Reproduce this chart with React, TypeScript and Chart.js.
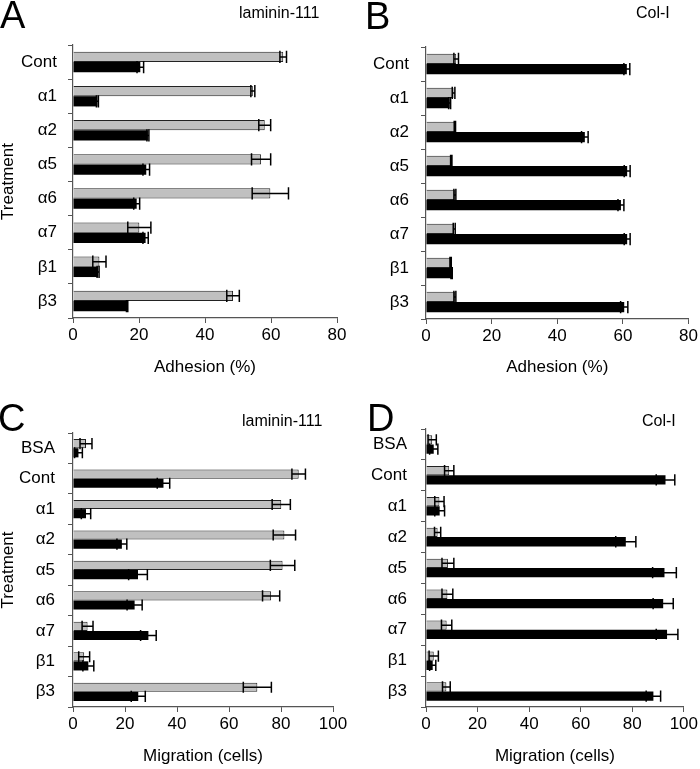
import React, { useEffect, useRef } from "react";
import { Chart, registerables } from "chart.js";

Chart.register(...registerables);

const adhesionCategories = ["Cont", "α1", "α2", "α5", "α6", "α7", "β1", "β3"];
const migrationCategories = ["BSA", "Cont", "α1", "α2", "α5", "α6", "α7", "β1", "β3"];
const adhesionTicks = [0, 20, 40, 60, 80];
const migrationTicks = [0, 20, 40, 60, 80, 100];

// Panel A: adhesion on laminin-111
const aGray = [63.7, 54.5, 58.1, 57.0, 59.8, 20.1, 8.0, 48.5];
const aGrayErr = [1.0, 0.6, 1.8, 2.9, 5.5, 3.5, 2.0, 1.9];
const aBlack = [20.4, 7.4, 22.7, 22.2, 19.3, 22.0, 7.6, 16.4];
const aBlackErr = [1.0, 0.3, 0.3, 1.0, 0.9, 0.8, 0.3, 0.2];

// Panel B: adhesion on Col-I
const bGray = [9.2, 8.4, 8.8, 7.7, 8.8, 8.6, 7.5, 8.8];
const bGrayErr = [0.7, 0.4, 0.2, 0.2, 0.3, 0.3, 0.2, 0.3];
const bBlack = [61.2, 7.2, 48.4, 61.3, 59.4, 61.3, 7.8, 60.4];
const bBlackErr = [0.9, 0.3, 1.0, 0.9, 0.9, 0.9, 0.2, 1.1];

// Panel C: migration on laminin-111
const cGray = [5.0, 86.8, 80.1, 81.3, 80.6, 76.2, 5.6, 4.3, 70.9];
const cGrayErr = [2.3, 2.6, 3.5, 4.3, 4.7, 3.3, 2.1, 2.1, 5.4];
const cBlack = [2.1, 34.8, 5.0, 18.8, 25.0, 23.7, 29.0, 5.9, 25.1];
const cBlackErr = [1.5, 2.4, 1.8, 1.9, 3.6, 2.9, 3.0, 2.1, 2.7];

// Panel D: migration on Col-I
const dGray = [2.4, 9.0, 5.2, 4.5, 8.5, 8.3, 8.0, 3.0, 7.9];
const dGrayErr = [1.6, 1.8, 1.8, 1.2, 2.3, 2.1, 2.0, 1.8, 1.5];
const dBlack = [3.0, 92.9, 5.3, 77.5, 92.5, 92.0, 93.5, 2.6, 88.2];
const dBlackErr = [1.6, 3.6, 1.9, 3.9, 4.6, 3.9, 4.2, 1.2, 2.8];

const FONT = "'Liberation Sans', Arial, Helvetica, sans-serif";
const AXIS_COLOR = "#555";

const errorBarPlugin = {
  id: "errorBars",
  afterDatasetsDraw(chart: any) {
    const ctx = chart.ctx;
    const xScale = chart.scales.x;
    ctx.save();
    ctx.strokeStyle = "#000";
    ctx.lineWidth = 1.5;
    chart.data.datasets.forEach((ds: any, di: number) => {
      const meta = chart.getDatasetMeta(di);
      const errs: number[] = ds.errors || [];
      meta.data.forEach((bar: any, i: number) => {
        const v = ds.data[i];
        const e = errs[i] || 0;
        const x0 = xScale.getPixelForValue(Math.max(0, v - e));
        const x1 = xScale.getPixelForValue(v + e);
        const y = bar.y;
        const hh = bar.height / 2 + 1;
        ctx.beginPath();
        ctx.moveTo(x0, y);
        ctx.lineTo(x1, y);
        ctx.moveTo(x0, y - hh);
        ctx.lineTo(x0, y + hh);
        ctx.moveTo(x1, y - hh);
        ctx.lineTo(x1, y + hh);
        ctx.stroke();
      });
    });
    ctx.restore();
  },
};

type PanelProps = {
  width: number;
  height: number;
  categories: string[];
  gray: number[];
  grayErr: number[];
  black: number[];
  blackErr: number[];
  ticks: number[];
  xTitle: string;
  yTitle?: string;
  padTop: number;
  padRight: number;
  yWidth: number;
  xHeight: number;
  labelPad: number;
};

function Panel(p: PanelProps) {
  const ref = useRef<HTMLCanvasElement | null>(null);
  useEffect(() => {
    if (!ref.current) return;
    const maxTick = p.ticks[p.ticks.length - 1];
    const chart = new Chart(ref.current, {
      type: "bar",
      data: {
        labels: p.categories,
        datasets: [
          {
            data: p.gray,
            errors: p.grayErr,
            backgroundColor: "#c0c0c0",
            borderColor: "#222",
            borderWidth: 1,
            categoryPercentage: 0.6,
            barPercentage: 1.0,
          } as any,
          {
            data: p.black,
            errors: p.blackErr,
            backgroundColor: "#000",
            borderColor: "#000",
            borderWidth: 0,
            categoryPercentage: 0.6,
            barPercentage: 1.0,
          } as any,
        ],
      },
      options: {
        indexAxis: "y",
        responsive: false,
        animation: false,
        devicePixelRatio: 1,
        layout: { padding: { top: p.padTop, right: p.padRight, left: 0, bottom: 0 } },
        plugins: {
          legend: { display: false },
          tooltip: { enabled: false },
          title: { display: false },
        },
        scales: {
          x: {
            type: "linear",
            min: 0,
            max: maxTick,
            afterBuildTicks: (s: any) => {
              s.ticks = p.ticks.map((v) => ({ value: v }));
            },
            ticks: { color: "#000", font: { size: 17, family: FONT }, padding: 2 },
            grid: { drawOnChartArea: false, drawTicks: true, tickLength: 5, color: AXIS_COLOR, lineWidth: 1 },
            border: { display: true, color: AXIS_COLOR, width: 1.2 },
            title: {
              display: true,
              text: p.xTitle,
              color: "#000",
              font: { size: 17, family: FONT },
              padding: { top: 0, bottom: 2 },
            },
            afterFit: (s: any) => {
              s.height = p.xHeight;
            },
          },
          y: {
            type: "category",
            offset: true,
            ticks: {
              color: "#000",
              font: { size: 17, family: FONT },
              padding: p.labelPad,
              autoSkip: false,
            },
            grid: { offset: true, drawOnChartArea: false, drawTicks: true, tickLength: 5, color: AXIS_COLOR, lineWidth: 1 },
            border: { display: true, color: AXIS_COLOR, width: 1.2 },
            title: {
              display: !!p.yTitle,
              text: p.yTitle || "",
              color: "#000",
              font: { size: 17, family: FONT, lineHeight: 1 },
              padding: 0,
            },
            afterFit: (s: any) => {
              s.width = p.yWidth;
            },
          },
        },
      } as any,
      plugins: [errorBarPlugin],
    });
    return () => chart.destroy();
  }, []);
  return <canvas ref={ref} width={p.width} height={p.height} style={{ display: "block", width: p.width, height: p.height }} />;
}

const letterStyle: React.CSSProperties = {
  position: "absolute",
  fontFamily: FONT,
  fontSize: 38,
  lineHeight: "38px",
  color: "#000",
  whiteSpace: "nowrap",
};
const subStyle: React.CSSProperties = {
  position: "absolute",
  fontFamily: FONT,
  fontSize: 16,
  lineHeight: "16px",
  color: "#000",
  whiteSpace: "nowrap",
};

export default function App() {
  return (
    <div style={{ position: "fixed", left: 0, top: 0, width: 700, height: 769, background: "#fff", overflow: "hidden" }}>
      <div style={{ position: "absolute", left: 0, top: 0 }}>
        <Panel
          width={350}
          height={380}
          categories={adhesionCategories}
          gray={aGray}
          grayErr={aGrayErr}
          black={aBlack}
          blackErr={aBlackErr}
          ticks={adhesionTicks}
          xTitle="Adhesion (%)"
          yTitle="Treatment"
          padTop={45}
          padRight={13}
          yWidth={73}
          xHeight={62}
          labelPad={11}
        />
      </div>
      <div style={{ position: "absolute", left: 350, top: 0 }}>
        <Panel
          width={350}
          height={380}
          categories={adhesionCategories}
          gray={bGray}
          grayErr={bGrayErr}
          black={bBlack}
          blackErr={bBlackErr}
          ticks={adhesionTicks}
          xTitle="Adhesion (%)"
          padTop={47}
          padRight={10}
          yWidth={76}
          xHeight={61}
          labelPad={12}
        />
      </div>
      <div style={{ position: "absolute", left: 0, top: 380 }}>
        <Panel
          width={350}
          height={389}
          categories={migrationCategories}
          gray={cGray}
          grayErr={cGrayErr}
          black={cBlack}
          blackErr={cBlackErr}
          ticks={migrationTicks}
          xTitle="Migration (cells)"
          yTitle="Treatment"
          padTop={53}
          padRight={17}
          yWidth={73}
          xHeight={62}
          labelPad={13}
        />
      </div>
      <div style={{ position: "absolute", left: 350, top: 380 }}>
        <Panel
          width={350}
          height={389}
          categories={migrationCategories}
          gray={dGray}
          grayErr={dGrayErr}
          black={dBlack}
          blackErr={dBlackErr}
          ticks={migrationTicks}
          xTitle="Migration (cells)"
          padTop={49}
          padRight={15}
          yWidth={76}
          xHeight={62}
          labelPad={14}
        />
      </div>
      <div style={{ ...letterStyle, left: 0, top: -4 }}>A</div>
      <div style={{ ...letterStyle, left: 365, top: -3 }}>B</div>
      <div style={{ ...letterStyle, left: -2, top: 399 }}>C</div>
      <div style={{ ...letterStyle, left: 367, top: 399 }}>D</div>
      <div style={{ ...subStyle, left: 239, top: 5 }}>laminin-111</div>
      <div style={{ ...subStyle, left: 636, top: 5 }}>Col-I</div>
      <div style={{ ...subStyle, left: 242, top: 413 }}>laminin-111</div>
      <div style={{ ...subStyle, left: 642, top: 413 }}>Col-I</div>
    </div>
  );
}
